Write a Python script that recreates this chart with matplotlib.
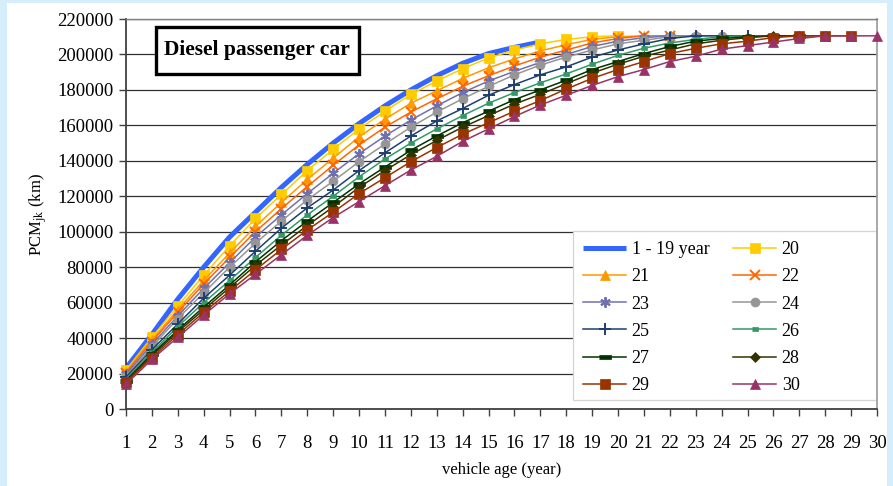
import matplotlib
matplotlib.use("Agg")
import matplotlib.pyplot as plt
from matplotlib.patches import Rectangle

plt.rcParams['font.family'] = ['Liberation Serif', 'DejaVu Serif']
plt.rcParams['mathtext.fontset'] = 'stix'

# Dados (PCM em km por idade do veículo)
ages = list(range(1, 31))

pcm_1_19 = [23000, 42000, 62000, 80000, 97000, 111000, 125000, 138000, 150000,
            161000, 171000, 180000, 188000, 195000, 200500, 204000, 207000]
pcm_20 = [22000, 40500, 58000, 75500, 92000, 107500, 121000, 134500, 146500, 158000,
          168000, 177500, 185000, 192000, 198000, 202500, 206000, 208500, 210000, 210500]
pcm_21 = [21000, 39000, 56000, 72500, 88000, 103000, 116500, 129500, 141500, 153500,
          163500, 172500, 179500, 186500, 192500, 197500, 202000, 205500, 208500, 210000,
          210500]
pcm_22 = [20500, 38000, 54500, 70500, 85500, 100000, 113000, 125500, 137500, 149000,
          159000, 167500, 175000, 182000, 188000, 193500, 198500, 202500, 206500, 209000,
          210500, 210500]
pcm_23 = [19500, 36500, 52500, 68000, 82500, 97000, 109500, 121500, 133000, 144000,
          154000, 163000, 171000, 178500, 185000, 190500, 195500, 200000, 204500, 207500,
          209500, 210500, 210500]
pcm_24 = [18500, 35000, 51000, 65500, 80000, 93500, 106000, 118000, 128500, 139500,
          149500, 159000, 167500, 175000, 182000, 188500, 194000, 198500, 202500, 206000,
          208000, 210000, 210500, 210500]
pcm_25 = [18000, 33500, 48000, 62500, 75500, 89000, 102000, 113500, 123500, 134500,
          144500, 154000, 162500, 169500, 177000, 183000, 188500, 193000, 198500, 202500,
          206000, 209000, 210500, 210500, 210500]
pcm_26 = [17000, 32000, 46500, 60000, 72500, 85500, 98000, 109500, 120000, 131000,
          141000, 150000, 158000, 165500, 172500, 178500, 184000, 189000, 194500, 199500,
          203500, 206500, 208500, 210000, 210500, 210500]
pcm_27 = [16000, 31000, 44500, 57500, 70000, 83000, 95000, 106000, 116500, 127000,
          136500, 146000, 154000, 161500, 168000, 174500, 180000, 185500, 191500, 196000,
          200500, 204500, 207500, 209000, 210000, 210500, 210500]
pcm_28 = [15500, 30000, 43500, 56000, 68500, 81000, 92500, 103500, 114000, 125000,
          134500, 143500, 151500, 159000, 165500, 172000, 177500, 183500, 189500, 194500,
          199000, 202500, 206000, 208000, 209500, 210500, 210500, 210500]
pcm_29 = [15000, 29000, 42000, 54500, 66500, 78500, 90000, 101000, 111000, 121500,
          130500, 139500, 147500, 155000, 161500, 168000, 174000, 180500, 186500, 191500,
          196000, 200500, 203500, 206000, 207500, 209500, 210500, 210500, 210500]
pcm_30 = [14000, 28000, 40500, 53000, 65000, 76000, 87000, 98000, 108000, 117000,
          126000, 134800, 142500, 151000, 158000, 165000, 171500, 177000, 182500, 187500,
          191500, 196000, 199000, 203000, 205000, 207000, 209000, 210500, 210500, 210500]

y_ticks = list(range(0, 220001, 20000))

# Estilos (cor, marcador, tamanho)
rect_short = [(-1, -0.45), (1, -0.45), (1, 0.45), (-1, 0.45)]
rect_long = [(-1, -0.35), (1, -0.35), (1, 0.35), (-1, 0.35)]
series = [
    ("20", pcm_20, "#ffcc00", "s", 6.5),
    ("21", pcm_21, "#ff9900", "^", 7),
    ("22", pcm_22, "#ff6600", "x", 6.5),
    ("23", pcm_23, "#7070b0", (6, 2, 0), 7.5),
    ("24", pcm_24, "#969696", "o", 6.5),
    ("25", pcm_25, "#1f3f70", "+", 8),
    ("26", pcm_26, "#339966", rect_short, 5),
    ("27", pcm_27, "#003300", rect_long, 8),
    ("28", pcm_28, "#333300", "D", 5.5),
    ("29", pcm_29, "#993300", "s", 6.5),
    ("30", pcm_30, "#993366", "^", 7.5),
]

fig = plt.figure(figsize=(8.93, 4.86), dpi=100, facecolor="#d6eefc")
W, H = 893, 486
fig.patches.append(Rectangle((7 / W, 0), 880 / W, 483 / H, transform=fig.transFigure,
                             facecolor="white", edgecolor="none", zorder=-10))
ax = fig.add_axes([126 / W, 1 - 409 / H, 751 / W, 390 / H])
ax.set_facecolor("white")

handles = []
h, = ax.plot(ages[:len(pcm_1_19)], pcm_1_19, color="#3366ff", lw=3.6,
             solid_capstyle="butt", label="1 - 19 year", zorder=2)
handles.append(h)
for name, vals, col, mk, ms in series:
    h, = ax.plot(ages[:len(vals)], vals, color=col, lw=1.1, marker=mk, markersize=ms,
                 markerfacecolor=col, markeredgecolor=col,
                 markeredgewidth=1.4 if mk in ("x", "+", (6, 2, 0)) else 0.5,
                 label=name, clip_on=False, zorder=3)
    handles.append(h)

ax.set_xlim(1, 30)
ax.set_ylim(0, 220000)
ax.set_xticks(ages)
ax.set_yticks(y_ticks)
ax.yaxis.grid(True, color="#303030", lw=0.9)
ax.set_axisbelow(True)
ax.tick_params(axis="x", direction="out", length=5, width=1, pad=14,
               labelsize=13.5, color="#404040")
ax.tick_params(axis="y", direction="out", length=5, width=1, pad=4,
               labelsize=13.5, color="#404040")
for s in ("left", "bottom"):
    ax.spines[s].set_color("#404040")
    ax.spines[s].set_linewidth(1.3)
ax.spines["right"].set_color("#a0a0a0")
ax.spines["right"].set_linewidth(1.3)
ax.spines["top"].set_color("#808080")
ax.spines["top"].set_linewidth(1)

ax.set_ylabel("PCM$_{\\mathrm{jk}}$ (km)", fontsize=12, labelpad=6)
ax.set_xlabel("vehicle age (year)", fontsize=12, labelpad=7)

# moldura da legenda (mais larga que o conteúdo, como no Excel)
lx0 = (573 - 126) / 751
ly1 = (409 - 231) / 390
ly0 = (409 - 400) / 390
ax.add_patch(Rectangle((lx0, ly0), 1 - lx0, ly1 - ly0, transform=ax.transAxes,
                       facecolor="white", edgecolor="#d4d4d4", lw=0.9, zorder=1))

# legenda preenchida por linhas
order = handles[0::2] + handles[1::2]
leg = ax.legend(order, [o.get_label() for o in order], ncol=2, loc="upper left",
                bbox_to_anchor=(lx0, ly1), fontsize=13, frameon=False,
                handlelength=2.4, handletextpad=0.3, columnspacing=1.3,
                labelspacing=0.57, borderpad=0.55, borderaxespad=0)

# Caixa do título
fig.patches.append(Rectangle((156 / W, 1 - 74 / H), 203 / W, 47 / H,
                             transform=fig.transFigure, facecolor="white",
                             edgecolor="black", lw=2.4, zorder=5))
fig.text(257 / W, 1 - 50 / H, "Diesel passenger car", ha="center", va="center",
         fontsize=15.5, fontweight="bold", zorder=6)

fig.savefig("out.png", dpi=100, facecolor=fig.get_facecolor())
